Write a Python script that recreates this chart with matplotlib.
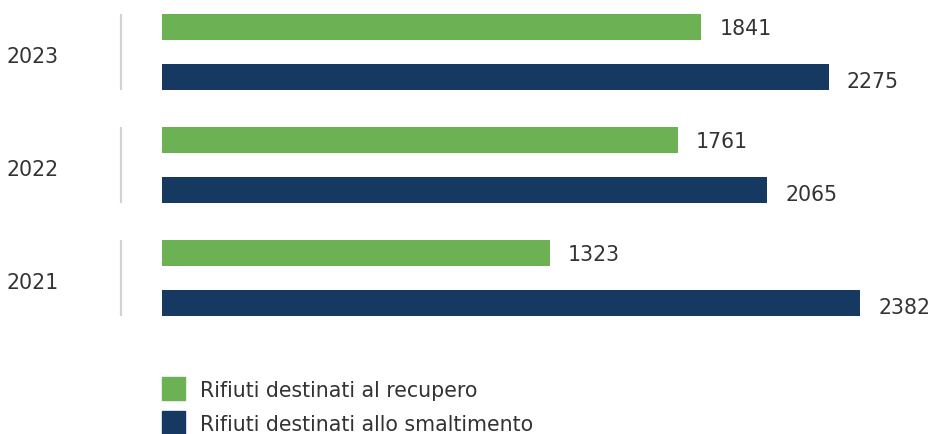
import matplotlib.pyplot as plt
from matplotlib.patches import Rectangle
import numpy as np

plt.rcParams['font.family'] = ['DejaVu Sans']

# dati: tonnellate di rifiuti per anno
anni = ['2023', '2022', '2021']
recupero = [1841, 1761, 1323]
smaltimento = [2275, 2065, 2382]
serie = ['Rifiuti destinati al recupero', 'Rifiuti destinati allo smaltimento']

VERDE = '#6db155'
BLU = '#163962'
TESTO = '#333333'

W, H = 933, 435
fig = plt.figure(figsize=(W / 100, H / 100), dpi=100)

# scala: 0 a 162 px, 2382 a 860 px
ppu = 698 / 2382
ax = fig.add_axes([0, 0, 1, 1])
ax.set_xlim(-162 / ppu, (W - 162) / ppu)
# gruppo k centrato a 53 + 113*k px dall'alto
ax.set_ylim((H - 53) / 113, -53 / 113)
ax.axis('off')

y = np.arange(len(anni))
off = 50 / 113 / 2
h = 26 / 113
fs = 14.8

ax.barh(y - off, recupero, height=h, color=VERDE)
ax.barh(y + off, smaltimento, height=h, color=BLU)

gap = 18 / ppu
for i in range(len(anni)):
    ax.text(recupero[i] + gap, y[i] - off + 1 / 113, str(recupero[i]),
            va='center', ha='left', fontsize=fs, color=TESTO)
    ax.text(smaltimento[i] + gap, y[i] + off + 4 / 113, str(smaltimento[i]),
            va='center', ha='left', fontsize=fs, color=TESTO)
    # separatore verticale e anno
    ax.vlines(-41 / ppu, y[i] - 38 / 113, y[i] + 38 / 113,
              color='#d2d2d2', lw=1.6)
    ax.text(-155 / ppu, y[i] + 4 / 113, anni[i],
            va='center', ha='left', fontsize=fs, color=TESTO)

# legenda
for k, (nome, col) in enumerate(zip(serie, [VERDE, BLU])):
    top = 378 + 34 * k
    fig.patches.append(Rectangle((162 / W, 1 - (top + 23) / H), 23 / W, 23 / H,
                                 transform=fig.transFigure, color=col))
    fig.text(200 / W, 1 - (top + 13) / H, nome, va='center', ha='left',
             fontsize=fs, color=TESTO)

fig.savefig('out.png', dpi=100)
